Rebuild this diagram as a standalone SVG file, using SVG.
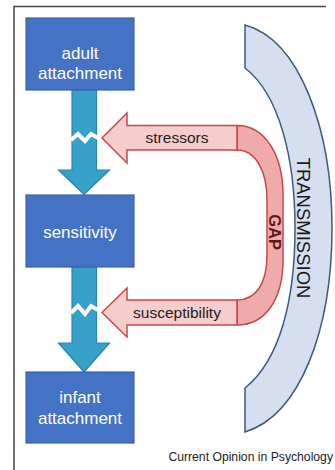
<svg xmlns="http://www.w3.org/2000/svg" width="335" height="470" viewBox="0 0 335 470">
<style>
  .box { fill: #4472C4; stroke: #3A62AA; stroke-width: 1.2; }
  .boxtxt { font-family: "Liberation Sans", Arial, sans-serif; font-size: 17px; fill: #ffffff; text-anchor: middle; }
  .teal { fill: #36A2C9; stroke: #2A86AE; stroke-width: 1.2; }
  .brk { fill: none; stroke: #ffffff; stroke-width: 4; stroke-linejoin: miter; }
  .red { fill: #F5CDCD; stroke: #C94848; stroke-width: 1.5; stroke-linejoin: miter; }
  .gapband { fill: #EFABAB; stroke: #C94848; stroke-width: 1.5; }
  .lbl { font-family: "Liberation Sans", Arial, sans-serif; font-size: 15.5px; fill: #222222; text-anchor: middle; }
  .trans { fill: #D5DFEF; stroke: #3D5A80; stroke-width: 1.5; }
</style>
<rect x="0" y="0" width="335" height="470" fill="#ffffff"/>
<path d="M14,470 L14,6.5 L326,6.5" fill="none" stroke="#444444" stroke-width="1.5"/>

<g id="transmission">
  <path class="trans" d="M245,25 C300,40 332,130 332,228 C332,330 300,415 245,432 L245,388 C280,360 295,300 295,228 C295,160 280,95 245,68 Z"/>
  <text x="0" y="0" transform="translate(303.5,228) rotate(90)" font-family="Liberation Sans, Arial, sans-serif" font-size="18.5" fill="#1a1a1a" text-anchor="middle" dominant-baseline="central">TRANSMISSION</text>
</g>

<g id="gap">
  <path class="gapband" d="M237,125.5 C265,125.5 283,155 283,195 L283,260 C283,300 265,325 237,325 L237,300 C255,300 267,285 267,255 L267,200 C267,170 255,150 237,150 Z"/>
  <text x="0" y="0" transform="translate(275,232) rotate(90)" font-family="Liberation Sans, Arial, sans-serif" font-size="16.5" font-weight="bold" fill="#5C1A1A" text-anchor="middle" dominant-baseline="central">GAP</text>
</g>

<g id="connectors">
  <g id="arrow-adult-sensitivity">
    <path class="teal" d="M72,90 L96.5,90 L96.5,170 L109.5,170 L84,194.5 L58.5,170 L72,170 Z"/>
    <polyline class="brk" points="71,140 78,134 85,141 91,134 98,138"/>
  </g>
  <g id="arrow-sensitivity-infant">
    <path class="teal" d="M72,267 L96.5,267 L96.5,343 L109.5,343 L84,372 L58.5,343 L72,343 Z"/>
    <polyline class="brk" points="71,313 78,306 85,314 91,306 98,310"/>
  </g>
  <g id="arrow-stressors">
    <path class="red" d="M102,138 L127,113 L127,125.5 L237,125.5 L237,150 L127,150 L127,163 Z"/>
    <text class="lbl" x="177" y="143">stressors</text>
  </g>
  <g id="arrow-susceptibility">
    <path class="red" d="M102,312.5 L127,288 L127,300 L237,300 L237,325 L127,325 L127,337 Z"/>
    <text class="lbl" x="177" y="318">susceptibility</text>
  </g>
</g>

<g id="adult-attachment">
  <rect class="box" x="26" y="18" width="108" height="72"/>
  <text class="boxtxt" x="80" y="59">adult</text>
  <text class="boxtxt" x="80" y="79">attachment</text>
</g>

<g id="sensitivity">
  <rect class="box" x="26" y="195" width="108" height="72"/>
  <text class="boxtxt" x="80" y="238">sensitivity</text>
</g>

<g id="infant-attachment">
  <rect class="box" x="26" y="372" width="108" height="71"/>
  <text class="boxtxt" x="80" y="403">infant</text>
  <text class="boxtxt" x="80" y="424">attachment</text>
</g>

<text x="333" y="461" font-family="Liberation Sans, Arial, sans-serif" font-size="12.2" fill="#222222" text-anchor="end">Current Opinion in Psychology</text>
</svg>
